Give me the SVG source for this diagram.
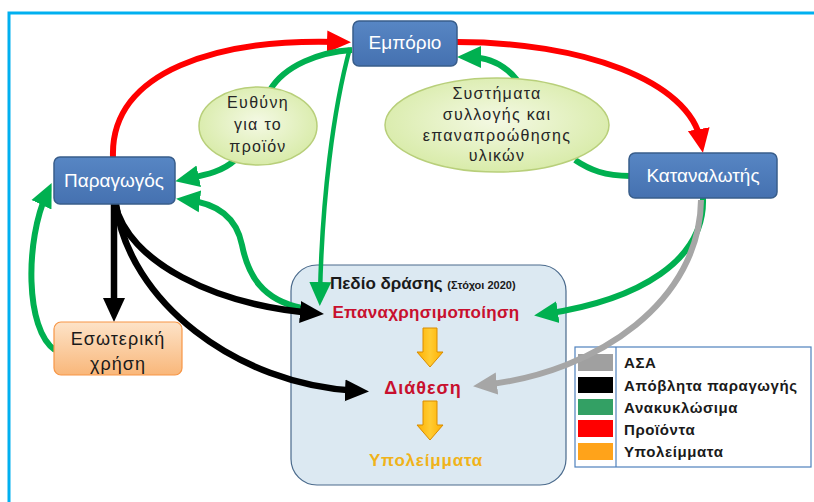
<svg xmlns="http://www.w3.org/2000/svg" width="814" height="502" viewBox="0 0 814 502">
  <style>
    .node rect { fill: url(#boxBlue); stroke: #385d8a; stroke-width: 1.5; }
    .node text { font-family: "Liberation Sans", "Noto Sans", sans-serif; font-size: 19px; fill: #ffffff; text-anchor: middle; }
    .bubble ellipse { fill: url(#bubbleGreen); stroke: #b8cf7a; stroke-width: 1.5; }
    .bubble text { font-family: "Liberation Sans", "Noto Sans", sans-serif; font-size: 16px; letter-spacing: 1.3px; fill: #262626; text-anchor: middle; }
    .red { fill: none; stroke: #ff0000; stroke-width: 6; marker-end: url(#headRed); }
    .green { fill: none; stroke: #00b050; stroke-width: 6; }
    .green.arrow { marker-end: url(#headGreen); }
    .black { fill: none; stroke: #000000; stroke-width: 6.5; marker-end: url(#headBlack); }
    .gray { fill: none; stroke: #a6a6a6; stroke-width: 6; marker-end: url(#headGray); }
    .step { fill: url(#stepOrange); stroke: #d98c00; stroke-width: 1; }
    .legend text { font-family: "Liberation Sans", "Noto Sans", sans-serif; font-size: 15px; font-weight: bold; letter-spacing: 0.6px; fill: #1a1a1a; }
  </style>
  <defs>
    <linearGradient id="boxBlue" x1="0" y1="0" x2="0" y2="1">
      <stop offset="0" stop-color="#5786c4"/>
      <stop offset="1" stop-color="#4571b0"/>
    </linearGradient>
    <radialGradient id="bubbleGreen" cx="0.5" cy="0.45" r="0.6">
      <stop offset="0" stop-color="#f4f9e4"/>
      <stop offset="1" stop-color="#d6eaa4"/>
    </radialGradient>
    <linearGradient id="orangeBox" x1="0" y1="0" x2="0" y2="1">
      <stop offset="0" stop-color="#fde3c8"/>
      <stop offset="1" stop-color="#f9b77a"/>
    </linearGradient>
    <linearGradient id="stepOrange" x1="0" y1="0" x2="1" y2="0">
      <stop offset="0" stop-color="#ffb000"/>
      <stop offset="0.5" stop-color="#ffcc33"/>
      <stop offset="1" stop-color="#ffb000"/>
    </linearGradient>
    <marker id="headRed" markerUnits="userSpaceOnUse" markerWidth="24" markerHeight="24" viewBox="0 0 24 24" refX="13" refY="12" orient="auto">
      <path d="M0,1 L24,12 L0,23 z" fill="#ff0000"/>
    </marker>
    <marker id="headGreen" markerUnits="userSpaceOnUse" markerWidth="24" markerHeight="24" viewBox="0 0 24 24" refX="13" refY="12" orient="auto">
      <path d="M0,1 L24,12 L0,23 z" fill="#00b050"/>
    </marker>
    <marker id="headBlack" markerUnits="userSpaceOnUse" markerWidth="24" markerHeight="24" viewBox="0 0 24 24" refX="13" refY="12" orient="auto">
      <path d="M0,1 L24,12 L0,23 z" fill="#000000"/>
    </marker>
    <marker id="headGray" markerUnits="userSpaceOnUse" markerWidth="24" markerHeight="24" viewBox="0 0 24 24" refX="13" refY="12" orient="auto">
      <path d="M0,1 L24,12 L0,23 z" fill="#a6a6a6"/>
    </marker>
  </defs>

  <rect x="0" y="0" width="814" height="502" fill="#ffffff"/>
  <!-- outer frame, running off the right and bottom edges -->
  <rect x="9" y="13" width="830" height="520" fill="none" stroke="#00b0f0" stroke-width="3"/>

  <!-- field of action panel -->
  <g id="pedio">
    <rect x="291" y="265" width="275" height="220" rx="26" fill="#dce9f2" stroke="#4a6a8c" stroke-width="1.2"/>
  </g>

  <!-- legend -->
  <g id="legend" class="legend">
    <rect x="575" y="347" width="236" height="120" fill="#ffffff" stroke="#4f81bd" stroke-width="1.2"/>
    <line x1="616" y1="347" x2="616" y2="467" stroke="#4f81bd" stroke-width="1.2"/>
    <rect x="578" y="354" width="35" height="17" fill="#a0a0a0"/>
    <rect x="578" y="377" width="35" height="16" fill="#000000"/>
    <rect x="578" y="399" width="35" height="16" fill="#33a064"/>
    <rect x="578" y="420" width="35" height="17" fill="#ff0000"/>
    <rect x="578" y="443" width="35" height="17" fill="#ffa31a"/>
    <text x="624" y="368">ΑΣΑ</text>
    <text x="624" y="391">Απόβλητα παραγωγής</text>
    <text x="624" y="413">Ανακυκλώσιμα</text>
    <text x="624" y="435">Προϊόντα</text>
    <text x="624" y="457">Υπολείμματα</text>
  </g>

  <!-- connectors -->
  <g id="connectors">
    <path class="red" d="M113,157 C110,70 220,38 340,42"/>
    <path class="red" d="M457,42 C580,42 690,80 701,142"/>
    <path class="green" d="M352,50 C320,52 285,65 270,90"/>
    <path class="green arrow" d="M235,160 C222,172 205,175 186,179"/>
    <path class="green arrow" style="stroke-width:4.5" d="M350,48 C333,110 322,200 320,295"/>
    <path class="green arrow" d="M302,308 C262,300 248,275 242,245 C236,215 215,203 187,200"/>
    <path class="green arrow" d="M55,350 C25,330 25,240 47,193"/>
    <path class="green" d="M630,176 C605,176 590,170 575,160"/>
    <path class="green arrow" d="M517,80 C505,65 490,57 468,57"/>
    <path class="green arrow" d="M703,198 C705,260 640,300 545,314"/>
    <path class="gray" d="M701,200 C700,300 600,372 484,385"/>
    <path class="black" d="M114,204 L114,311"/>
    <path class="black" d="M115,204 C128,262 215,305 313,313"/>
    <path class="black" d="M116,204 C128,300 235,385 358,391"/>
  </g>

  <!-- nodes -->
  <g id="emporio" class="node">
    <rect x="353" y="21" width="104" height="45" rx="6"/>
    <text x="405" y="49">Εμπόριο</text>
  </g>
  <g id="paragogos" class="node">
    <rect x="54" y="157" width="121" height="47" rx="6"/>
    <text x="114" y="187">Παραγωγός</text>
  </g>
  <g id="katanalotis" class="node">
    <rect x="629" y="153" width="148" height="45" rx="6"/>
    <text x="703" y="182">Καταναλωτής</text>
  </g>
  <g id="esoteriki">
    <rect x="54" y="322" width="128" height="53" rx="7" fill="url(#orangeBox)" stroke="#f79646" stroke-width="1.2"/>
    <text x="118" y="345" font-family="Liberation Sans, Noto Sans, sans-serif" font-size="18" fill="#1a1a1a" text-anchor="middle" letter-spacing="1">Εσωτερική</text>
    <text x="118" y="370" font-family="Liberation Sans, Noto Sans, sans-serif" font-size="18" fill="#1a1a1a" text-anchor="middle" letter-spacing="1">χρήση</text>
  </g>
  <g id="efthyni" class="bubble">
    <ellipse cx="258" cy="126" rx="59" ry="39"/>
    <text x="258" y="108">Ευθύνη</text>
    <text x="258" y="130">για το</text>
    <text x="258" y="152">προϊόν</text>
  </g>
  <g id="systimata" class="bubble">
    <ellipse cx="497" cy="125" rx="112" ry="47"/>
    <text x="497" y="99">Συστήματα</text>
    <text x="497" y="120">συλλογής και</text>
    <text x="497" y="141">επαναπροώθησης</text>
    <text x="497" y="161">υλικών</text>
  </g>

  <!-- stages inside the field of action -->
  <g id="pedio-stages" font-family="Liberation Sans, Noto Sans, sans-serif">
    <text x="330" y="289" font-size="17" font-weight="bold" fill="#1a1a1a">Πεδίο δράσης <tspan font-size="11">(Στόχοι 2020)</tspan></text>
    <text x="426" y="318" font-size="17" font-weight="bold" letter-spacing="0.3" fill="#c8102e" text-anchor="middle">Επαναχρησιμοποίηση</text>
    <polygon class="step" points="423,328 437,328 437,352 443,352 430,367 417,352 423,352"/>
    <text x="423" y="394" font-size="18" font-weight="bold" letter-spacing="1" fill="#c8102e" text-anchor="middle">Διάθεση</text>
    <polygon class="step" points="423,401 437,401 437,425 443,425 430,440 417,425 423,425"/>
    <text x="426" y="466" font-size="17" font-weight="bold" letter-spacing="0.8" fill="#f0b31a" text-anchor="middle">Υπολείμματα</text>
  </g>
</svg>
